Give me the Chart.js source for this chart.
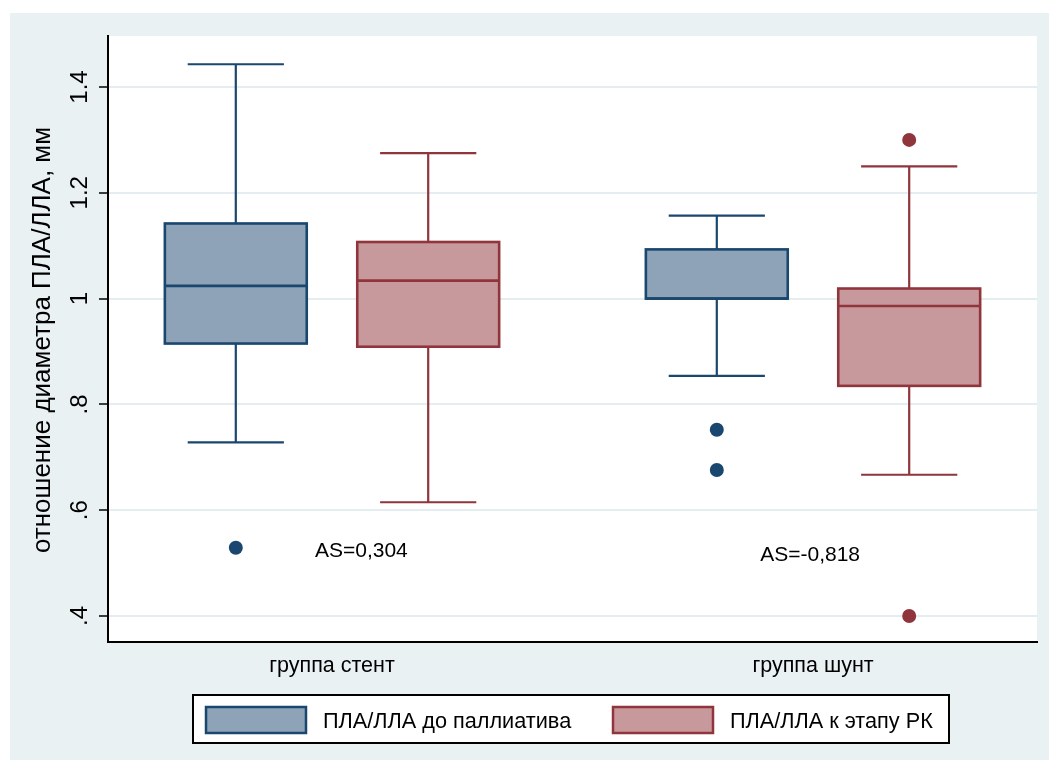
<!DOCTYPE html>
<html>
<head>
<meta charset="utf-8">
<script src="https://cdn.jsdelivr.net/npm/chart.js@4.4.1/dist/chart.umd.min.js"></script>
<style>
  html, body { margin: 0; padding: 0; background: #ffffff; }
  canvas { display: block; }
</style>
</head>
<body>
<canvas id="chart" width="1049" height="760"></canvas>
<script>
// Groups and series
const groups = ['группа стент', 'группа шунт'];
const seriesNames = ['ПЛА/ЛЛА до паллиатива', 'ПЛА/ЛЛА к этапу РК'];

// Box statistics per group: lower whisker, Q1, median, Q3, upper whisker
const preLow    = [0.728, 0.854];
const preQ1     = [0.915, 1.000];
const preMedian = [1.024, 1.000];
const preQ3     = [1.142, 1.093];
const preHigh   = [1.443, 1.157];
const preOutliers = [[0.529], [0.752, 0.676]];

const postLow    = [0.615, 0.667];
const postQ1     = [0.909, 0.835];
const postMedian = [1.034, 0.986];
const postQ3     = [1.107, 1.019];
const postHigh   = [1.275, 1.250];
const postOutliers = [[], [1.300, 0.400]];

// Value axis ticks
const yTicks = [0.4, 0.6, 0.8, 1.0, 1.2, 1.4];
const yTickLabels = ['.4', '.6', '.8', '1', '1.2', '1.4'];
const yTitle = 'отношение диаметра ПЛА/ЛЛА, мм';

// Asymmetry notes per group
const skewText = ['AS=0,304', 'AS=-0,818'];

// Styling
const NAVY = '#1a476f', MAROON = '#90353b';
const NAVY_FILL = '#8ea3b7', MAROON_FILL = '#c8999c';
const PANEL = '#eaf1f3', GRID = '#e4edf0';
const FONT = '"Liberation Sans", Arial, sans-serif';

const series = [
  { name: seriesNames[0], low: preLow, q1: preQ1, med: preMedian, q3: preQ3, high: preHigh,
    out: preOutliers, line: NAVY, fill: NAVY_FILL, shift: -0.2 },
  { name: seriesNames[1], low: postLow, q1: postQ1, med: postMedian, q3: postQ3, high: postHigh,
    out: postOutliers, line: MAROON, fill: MAROON_FILL, shift: 0.2 }
];

// Outlier points as scatter datasets
const datasets = series.map(s => ({
  type: 'scatter',
  label: s.name,
  data: s.out.flatMap((vals, i) => vals.map(v => ({ x: i + 1 + s.shift, y: v }))),
  pointRadius: 7,
  pointHoverRadius: 7,
  pointBackgroundColor: s.line,
  pointBorderWidth: 0
}));

const boxGeom = { halfBox: 0.1475, halfCap: 0.1 };
const notePlacement = [{ x: 1.061, y: 0.5115 }, { x: 1.994, y: 0.504 }];

const stataPlugin = {
  id: 'stataBox',
  beforeDraw(chart) {
    const { ctx, chartArea: a, width, height } = chart;
    ctx.save();
    ctx.fillStyle = '#ffffff';
    ctx.fillRect(0, 0, width, height);
    ctx.fillStyle = PANEL;
    ctx.fillRect(10, 13, width - 10, height - 13);
    ctx.fillStyle = '#ffffff';
    ctx.fillRect(a.left, a.top, a.right - a.left, a.bottom - a.top);
    ctx.restore();
  },
  beforeDatasetsDraw(chart) {
    const { ctx, scales: { x, y } } = chart;
    ctx.save();
    series.forEach(s => {
      groups.forEach((g, i) => {
        const c = i + 1 + s.shift;
        const cx = x.getPixelForValue(c);
        const bl = x.getPixelForValue(c - boxGeom.halfBox);
        const br = x.getPixelForValue(c + boxGeom.halfBox);
        const cl = x.getPixelForValue(c - boxGeom.halfCap);
        const cr = x.getPixelForValue(c + boxGeom.halfCap);
        const yLow = y.getPixelForValue(s.low[i]);
        const yQ1 = y.getPixelForValue(s.q1[i]);
        const yMed = y.getPixelForValue(s.med[i]);
        const yQ3 = y.getPixelForValue(s.q3[i]);
        const yHigh = y.getPixelForValue(s.high[i]);

        ctx.strokeStyle = s.line;
        ctx.lineWidth = 2.2;
        ctx.beginPath();
        ctx.moveTo(cx, yQ1); ctx.lineTo(cx, yLow);
        ctx.moveTo(cl, yLow); ctx.lineTo(cr, yLow);
        ctx.moveTo(cx, yQ3); ctx.lineTo(cx, yHigh);
        ctx.moveTo(cl, yHigh); ctx.lineTo(cr, yHigh);
        ctx.stroke();

        ctx.fillStyle = s.fill;
        ctx.fillRect(bl, yQ3, br - bl, yQ1 - yQ3);
        ctx.lineWidth = 2.6;
        ctx.strokeRect(bl, yQ3, br - bl, yQ1 - yQ3);
        ctx.beginPath();
        ctx.moveTo(bl, yMed); ctx.lineTo(br, yMed);
        ctx.stroke();
      });
    });
    ctx.restore();
  },
  afterDraw(chart) {
    const { ctx, scales: { x, y } } = chart;
    ctx.save();
    ctx.fillStyle = '#000000';

    // value-axis tick labels, rotated
    ctx.font = '24px ' + FONT;
    ctx.textAlign = 'center';
    ctx.textBaseline = 'alphabetic';
    y.ticks.forEach(t => {
      const py = y.getPixelForValue(t.value);
      ctx.save();
      ctx.translate(87, py);
      ctx.rotate(-Math.PI / 2);
      ctx.fillText(t.label, 0, 0);
      ctx.restore();
    });

    // value-axis title
    ctx.font = '26px ' + FONT;
    ctx.save();
    ctx.translate(50, 340);
    ctx.rotate(-Math.PI / 2);
    ctx.fillText(yTitle, 0, 0);
    ctx.restore();

    // group labels
    ctx.font = '21.5px ' + FONT;
    x.ticks.forEach(t => {
      ctx.fillText(t.label, x.getPixelForValue(t.value), 672);
    });

    // asymmetry notes
    ctx.font = '21px ' + FONT;
    skewText.forEach((txt, i) => {
      const p = notePlacement[i];
      ctx.fillText(txt, x.getPixelForValue(p.x), y.getPixelForValue(p.y));
    });

    // legend
    const lg = { left: 193, top: 695, right: 949, bottom: 743 };
    ctx.fillStyle = '#ffffff';
    ctx.fillRect(lg.left, lg.top, lg.right - lg.left, lg.bottom - lg.top);
    ctx.strokeStyle = '#000000';
    ctx.lineWidth = 2;
    ctx.strokeRect(lg.left, lg.top, lg.right - lg.left, lg.bottom - lg.top);
    const items = [{ sx: 206, tx: 323 }, { sx: 613, tx: 730 }];
    ctx.font = '21.7px ' + FONT;
    ctx.textAlign = 'left';
    series.forEach((s, i) => {
      const it = items[i];
      ctx.fillStyle = s.fill;
      ctx.fillRect(it.sx, 707, 100, 26);
      ctx.strokeStyle = s.line;
      ctx.lineWidth = 2.5;
      ctx.strokeRect(it.sx, 707, 100, 26);
      ctx.fillStyle = '#000000';
      ctx.fillText(s.name, it.tx, 728);
    });
    ctx.restore();
  }
};

new Chart(document.getElementById('chart'), {
  type: 'scatter',
  data: { datasets },
  options: {
    responsive: false,
    animation: false,
    events: [],
    layout: { padding: { left: 98, top: 36, right: 12, bottom: 118 } },
    plugins: { legend: { display: false }, tooltip: { enabled: false } },
    scales: {
      x: {
        type: 'linear',
        min: 0.5343,
        max: 2.4657,
        afterBuildTicks: scale => { scale.ticks = groups.map((g, i) => ({ value: i + 1 })); },
        afterFit: scale => { scale.height = 0; },
        ticks: { display: false, callback: v => groups[Math.round(v) - 1] },
        grid: { display: false },
        border: { display: true, color: '#000000', width: 2 }
      },
      y: {
        type: 'linear',
        min: 0.3508,
        max: 1.4964,
        afterBuildTicks: scale => { scale.ticks = yTicks.map(v => ({ value: v })); },
        afterFit: scale => { scale.width = 10; },
        ticks: {
          display: false,
          callback: v => yTickLabels[yTicks.findIndex(t => Math.abs(t - v) < 1e-6)]
        },
        grid: { color: GRID, lineWidth: 2, tickLength: 9, tickColor: '#000000', tickWidth: 1.5 },
        border: { display: true, color: '#000000', width: 2 }
      }
    }
  },
  plugins: [stataPlugin]
});
</script>
</body>
</html>
